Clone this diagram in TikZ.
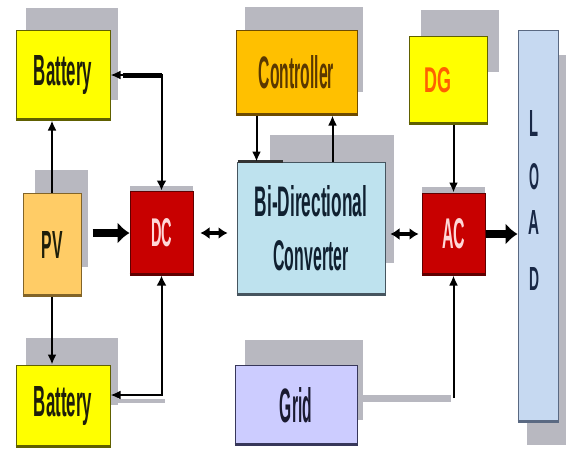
\documentclass[tikz,border=0pt]{standalone}
\usepackage{fontspec}
\setmainfont{Liberation Sans}
\usetikzlibrary{arrows.meta,calc}
\definecolor{shad}{RGB}{184,184,192}
\definecolor{batf}{RGB}{255,255,0}
\definecolor{batd}{RGB}{96,96,0}
\definecolor{pvf}{RGB}{255,204,102}
\definecolor{pvd}{RGB}{130,100,40}
\definecolor{redf}{RGB}{200,0,0}
\definecolor{redd}{RGB}{96,0,0}
\definecolor{ctrlf}{RGB}{255,192,0}
\definecolor{ctrld}{RGB}{110,75,0}
\definecolor{bdcf}{RGB}{190,226,238}
\definecolor{bdcd}{RGB}{70,85,95}
\definecolor{gridf}{RGB}{204,204,255}
\definecolor{gridd}{RGB}{55,55,90}
\definecolor{loadf}{RGB}{198,217,241}
\definecolor{loadd}{RGB}{90,105,130}
\definecolor{dgtext}{RGB}{255,96,0}
\definecolor{darktext}{RGB}{30,30,10}
\definecolor{navytext}{RGB}{25,40,70}
\newcommand{\fitt}[3]{\resizebox{#1pt}{#2pt}{\bfseries #3}}
\begin{document}
\begin{tikzpicture}[x=1pt,y=-1pt,
  box/.style={rectangle,draw,line width=1pt,inner sep=0pt,anchor=center},
  thin/.style={line width=2pt,-{Latex[length=10pt,width=9pt]}},
  thinboth/.style={line width=2pt,{Latex[length=10pt,width=10pt]}-{Latex[length=10pt,width=9pt]}},
  dblshort/.style={line width=3.5pt,{Latex[length=9pt,width=12pt]}-{Latex[length=9pt,width=12pt]}},
  thick/.style={line width=8pt,-{Latex[length=12pt,width=22pt]}},
  letter/.style={inner sep=0pt,text=navytext}]
\useasboundingbox (0,0) rectangle (566,448);
\fill[white] (0,0) rectangle (566,448);
% shadows
\fill[shad] (26,8) rectangle (118,100);
\fill[shad] (35,170) rectangle (88,267);
\fill[shad] (26,338) rectangle (118,405);
\fill[shad] (130,186) rectangle (193,200);
\fill[shad] (245,7) rectangle (363,92);
\fill[shad] (270,135) rectangle (394,263);
\fill[shad] (245,340) rectangle (363,420);
\fill[shad] (421,10) rectangle (499,72);
\fill[shad] (422,187) rectangle (485,200);
\fill[shad] (527,55) rectangle (566,445);
% boxes
\node[box,fill=batf,draw=batd,minimum width=94pt,minimum height=90pt,text=darktext] (bat1) at (63,75) {\fitt{58}{30}{Battery}};
\node[box,fill=pvf,draw=pvd,minimum width=58pt,minimum height=103pt,text=darktext] (pv) at (52,244.5) {\fitt{21}{27}{PV}};
\node[box,fill=batf,draw=batd,minimum width=94pt,minimum height=82pt,text=darktext] (bat2) at (63,406) {\fitt{58}{30}{Battery}};
\node[box,fill=redf,draw=redd,minimum width=63pt,minimum height=84pt,text={rgb,255:red,255;green,215;blue,215}] (dc) at (161.5,233) {\fitt{21}{28}{DC}};
\node[box,fill=ctrlf,draw=ctrld,minimum width=121pt,minimum height=85pt,text={rgb,255:red,90;green,56;blue,0}] (ctrl) at (296.5,72.5) {\fitt{75}{33}{Controller}};
\node[box,fill=bdcf,draw=bdcd,minimum width=148pt,minimum height=133pt,align=center,text={rgb,255:red,16;green,32;blue,48},font=\fontsize{10}{54}\selectfont] (bdc) at (311,228.5) {\fitt{112}{31}{Bi-Directional}\\\fitt{75}{30}{Converter}};
\node[box,fill=gridf,draw=gridd,minimum width=122pt,minimum height=80pt,text={rgb,255:red,26;green,26;blue,48}] (grid) at (296,405) {\fitt{32}{35}{Grid}};
\node[box,fill=batf,draw=batd,minimum width=78pt,minimum height=88pt,text=dgtext] (dg) at (448,80) {\hspace*{-20pt}\fitt{27}{25}{DG}};
\node[box,fill=redf,draw=redd,minimum width=63pt,minimum height=82pt,text={rgb,255:red,255;green,215;blue,215}] (ac) at (453.5,234) {\fitt{23}{30}{AC}};
\node[box,fill=loadf,draw=loadd,minimum width=40pt,minimum height=392pt] (load) at (538,226) {};
\node[letter] (l1) at (534,123) {\fitt{9}{26}{L}};
\node[letter] (l2) at (534,177) {\fitt{10}{26}{O}};
\node[letter] (l3) at (534,222) {\fitt{11}{24}{A}};
\node[letter] (l4) at (534,279) {\fitt{10}{23}{D}};
% thicker bottom edges
\foreach \n/\c in {bat1/batd,pv/pvd,bat2/batd,dc/redd,ctrl/ctrld,bdc/bdcd,grid/gridd,dg/batd,ac/redd,load/loadd}
  \draw[line width=3pt,\c] ([yshift=1.5pt]\n.south west) -- ([yshift=1.5pt]\n.south east);
\draw[line width=3pt,black!80] ([xshift=1pt]bdc.north west) -- ([xshift=46pt]bdc.north west);
% connectors
\draw[thin] (pv.north) -- (pv.north |- bat1.south);
\draw[thin] (pv.south) -- (pv.south |- bat2.north);
\coordinate (pvout) at ($(pv.east |- dc.west)+(11,0)$);
\draw[thick] (pvout) -- (dc.west);
\draw[thinboth] (dc.north) |- (bat1.east);
\draw[line width=5pt] ($(bat1.east)+(12,0)$) -- (dc.north |- bat1.east);
\draw[line width=4pt,shad] ($(bat2.east)+(3,-5)$) -- ($(dc.south |- bat2.east)+(3,-5)$);
\draw[thinboth] (dc.south) |- ([yshift=11pt]bat2.east);
\draw[dblshort,shorten <=7pt,shorten >=9pt] (dc.east) -- (dc.east -| bdc.west);
\draw[dblshort,shorten <=5pt,shorten >=3pt] (bdc.east |- ac.west) -- (ac.west);
\coordinate (cl) at ($(ctrl.south west)+(21,0)$);
\coordinate (cr) at ($(ctrl.south west)+(97,0)$);
\draw[thin] (cl) -- (cl |- bdc.north);
\draw[thin] (cr |- bdc.north) -- (cr);
\draw[thin] (ac.north |- dg.south) -- (ac.north);
\draw[thick] (ac.east) -- (ac.east -| load.west);
\coordinate (gc) at ([yshift=7pt]grid.east -| ac.south);
\draw[line width=7pt,shad] ([yshift=7pt]grid.east) -- ([xshift=-3pt]gc);
\draw[thin] (gc) -- (ac.south);
\end{tikzpicture}
\end{document}
